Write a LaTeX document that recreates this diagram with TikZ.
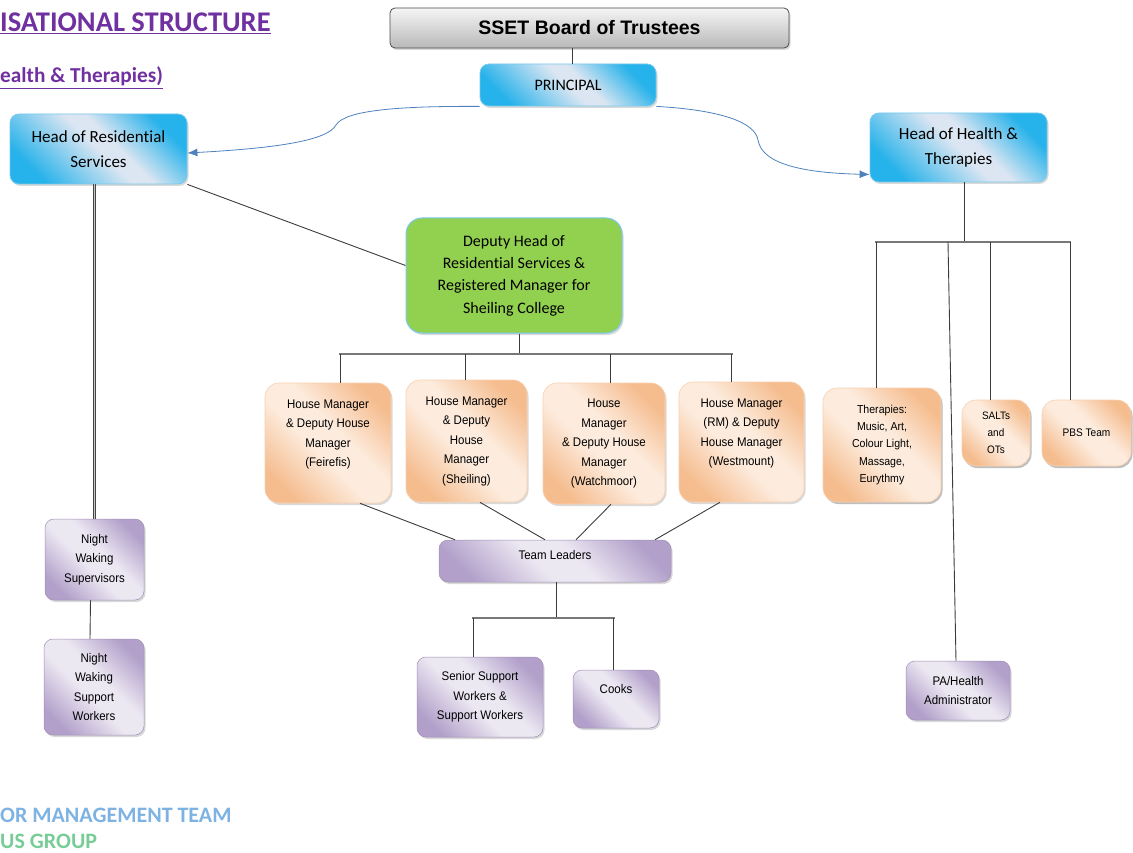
\documentclass[tikz,border=0pt]{standalone}
\usepackage{fontspec}
\setmainfont[Ligatures=NoCommon]{Carlito}
\newfontfamily\arialfont{Liberation Sans}
\newfontfamily\narrowfont[FakeStretch=0.92]{Liberation Sans}
\usetikzlibrary{shadows,arrows.meta}

\definecolor{titlepurple}{RGB}{112,48,160}
\definecolor{smtblue}{RGB}{125,178,226}
\definecolor{focusgreen}{RGB}{120,205,150}
\definecolor{boxblue}{RGB}{38,178,234}
\definecolor{paleblue}{RGB}{220,230,242}
\definecolor{edgeblue}{RGB}{120,200,238}
\definecolor{leafgreen}{RGB}{146,208,80}
\definecolor{peach}{RGB}{245,188,142}
\definecolor{palepeach}{RGB}{253,236,222}
\definecolor{lilac}{RGB}{178,160,202}
\definecolor{palelilac}{RGB}{236,232,242}
\definecolor{arrowblue}{RGB}{79,129,189}
\definecolor{linegray}{RGB}{60,60,60}
\definecolor{busgray}{RGB}{120,120,120}

\pgfdeclarehorizontalshading{blueband}{100bp}{color(0bp)=(boxblue); color(25bp)=(boxblue);
  color(50bp)=(paleblue); color(56bp)=(paleblue); color(75bp)=(boxblue); color(100bp)=(boxblue)}
\pgfdeclarehorizontalshading{peachband}{100bp}{color(0bp)=(peach); color(24bp)=(peach);
  color(45bp)=(palepeach); color(56bp)=(palepeach); color(76bp)=(peach); color(100bp)=(peach)}
\pgfdeclarehorizontalshading{lilacband}{100bp}{color(0bp)=(lilac); color(24bp)=(lilac);
  color(45bp)=(palelilac); color(56bp)=(palelilac); color(76bp)=(lilac); color(100bp)=(lilac)}

\tikzset{
  boxshadow/.style={drop shadow={opacity=0.3,shadow xshift=1.5pt,shadow yshift=-2pt}},
  headbox/.style={rounded corners=9pt, draw=edgeblue, line width=0.8pt,
    shade, shading=blueband, shading angle=45, boxshadow},
  housebox/.style={rounded corners=14pt, draw=peach!70, line width=0.6pt,
    shade, shading=peachband, shading angle=45, boxshadow,
    font=\narrowfont\fontsize{12.5}{19.5}\selectfont},
  staffbox/.style={rounded corners=9pt, draw=lilac!90!black, line width=0.5pt,
    shade, shading=lilacband, shading angle=45, boxshadow,
    font=\narrowfont\fontsize{12.5}{19.5}\selectfont},
  smallbox/.style={housebox, font=\narrowfont\fontsize{11.5}{17.2}\selectfont},
  bus/.style={draw=busgray, line width=1.8pt},
  flow/.style={draw=arrowblue, line width=0.8pt, -{Latex[length=10pt,width=8pt]}}
}

\begin{document}
\begin{tikzpicture}[x=1pt,y=-1pt,
  every edge/.style={draw=linegray, line width=0.9pt}]
\useasboundingbox (0,0) rectangle (1133,853);

% headings
\node[anchor=base west, inner sep=0, text=titlepurple,
  font=\bfseries\fontsize{28.5}{30}\selectfont] (T1) at (0,32) {\underline{ISATIONAL STRUCTURE}};
\node[anchor=base west, inner sep=0, text=titlepurple,
  font=\bfseries\fontsize{21.3}{24}\selectfont] (T2) at (0,83) {\underline{ealth \& Therapies)}};
\node[anchor=base west, inner sep=0, text=smtblue,
  font=\bfseries\fontsize{22}{24}\selectfont] (L1) at (0,822) {OR MANAGEMENT TEAM};
\node[anchor=base west, inner sep=0, text=focusgreen,
  font=\bfseries\fontsize{22}{24}\selectfont] (L2) at (0,848) {US GROUP};

% top of the tree
\node[rounded corners=5pt, draw=gray!60!black, line width=0.8pt, top color=gray!8,
  bottom color=gray!55, boxshadow, minimum width=399pt, minimum height=40pt,
  font=\arialfont\bfseries\fontsize{19.5}{22}\selectfont] (BT) at (589.5,28) {SSET Board of Trustees};
\begin{scope}[every node/.style={headbox, align=center, inner sep=0,
    font=\fontsize{17}{25}\selectfont}]
    \node[minimum width=176pt, minimum height=42pt, font=\fontsize{16}{20}\selectfont] (P) at (568,85) {PRINCIPAL};
    \node[minimum width=177pt, minimum height=70pt] (HR) at (98.5,149) {Head of Residential\\Services};
    \node[minimum width=177pt, minimum height=69pt] (HH) at (958.5,147.5) {Head of Health \&\\Therapies};
\end{scope}
\node[rounded corners=16pt, draw=edgeblue, line width=1pt, fill=leafgreen, boxshadow,
  align=center, inner sep=0, minimum width=216pt, minimum height=115pt,
  font=\fontsize{16}{22.3}\selectfont] (DH) at (514,275.5)
  {Deputy Head of\\Residential Services \&\\Registered Manager for\\Sheiling College};

% houses
\begin{scope}[every node/.style={housebox, align=center, inner sep=0}]
    \node[minimum width=126pt, minimum height=120pt] (H1) at (328,443) {House Manager\\\& Deputy House\\Manager\\(Feirefis)\\~};
    \node[minimum width=121pt, minimum height=122pt] (H2) at (466.5,441) {House Manager\\\& Deputy\\House\\Manager\\(Sheiling)};
    \node[minimum width=122pt, minimum height=121pt] (H3) at (604,443.5) {House\\Manager\\\& Deputy House\\Manager\\(Watchmoor)};
    \node[minimum width=125pt, minimum height=120pt] (H4) at (741.5,442) {House Manager\\(RM) \& Deputy\\House Manager\\(Westmount)\\~};
    \node[smallbox, minimum width=118pt, minimum height=114pt] (TH) at (882,445) {Therapies:\\Music, Art,\\Colour Light,\\Massage,\\Eurythmy};
    \node[smallbox, minimum width=68pt, minimum height=66pt, font=\narrowfont\fontsize{10.8}{17}\selectfont] (SA) at (996,433) {SALTs\\and\\OTs};
    \node[smallbox, minimum width=89pt, minimum height=66pt, font=\narrowfont\fontsize{11}{17}\selectfont] (PB) at (1086.5,433) {PBS Team};
\end{scope}

% staff
\begin{scope}[every node/.style={staffbox, align=center, inner sep=0}]
    \node[minimum width=232pt, minimum height=42pt] (TL) at (555,561) {Team Leaders\\[-8pt]~};
    \node[minimum width=126pt, minimum height=80pt] (SS) at (480,697) {Senior Support\\Workers \&\\Support Workers};
    \node[minimum width=86pt, minimum height=58pt] (CK) at (616,699) {Cooks\\~};
    \node[minimum width=99pt, minimum height=81pt] (NS) at (94.5,559.5) {Night\\Waking\\Supervisors};
    \node[minimum width=100pt, minimum height=96pt] (NW) at (94,687) {Night\\Waking\\Support\\Workers};
    \node[minimum width=104pt, minimum height=59pt] (PA) at (958,690.5) {PA/Health\\Administrator};
\end{scope}

% bus points
\coordinate (d0) at (519,354);
\coordinate (d1) at (340,354);
\coordinate (d2) at (465,354);
\coordinate (d3) at (610,354);
\coordinate (d4) at (731,354);
\coordinate (t0) at (556,618);
\coordinate (t1) at (473,618);
\coordinate (t2) at (613,618);
\coordinate (r0) at (964,242);
\coordinate (r1) at (876,242);
\coordinate (r2) at (948,242);
\coordinate (r3) at (990,242);
\coordinate (r4) at (1070,242);

% connectors
\path ([xshift=-17.5pt]BT.south) edge ([xshift=4pt]P.north);
\draw[flow] (P.south west) .. controls (400,106) and (345,110) .. (336,125)
  .. controls (328,140) and (280,148) .. ([yshift=-4pt]HR.east);
\draw[flow] (P.south east) .. controls (720,110) and (755,122) .. (758,140)
  .. controls (762,166) and (810,173) .. ([yshift=-27pt]HH.west);
\draw[draw=gray!55!black, double=gray!45, double distance=1.4pt, line width=0.6pt]
  (NS.north |- HR.south) -- (NS.north);
\path ([xshift=-4pt]NS.south) edge ([xshift=-4pt]NW.north);
\path (HR.south east) edge ([yshift=10pt]DH.west);

\path (d0 |- DH.south) edge (d0);
\draw[bus] ([xshift=-1pt]d1) -- ([xshift=2pt]d4);
\path (d1) edge (d1 |- H1.north)
      (d2) edge (d2 |- H2.north)
      (d3) edge (d3 |- H3.north)
      (d4) edge (d4 |- H4.north);

\path ([xshift=32pt]H1.south) edge ([xshift=-100pt]TL.north)
      ([xshift=13.5pt]H2.south) edge ([xshift=-10pt]TL.north)
      ([xshift=7pt]H3.south) edge ([xshift=21pt]TL.north)
      ([xshift=-21.5pt]H4.south) edge ([xshift=100pt]TL.north);

\path (t0 |- TL.south) edge (t0);
\draw[bus] ([xshift=-1pt]t1) -- ([xshift=2pt]t2);
\path (t1) edge (t1 |- SS.north)
      (t2) edge (t2 |- CK.north);

\path (r0 |- HH.south) edge (r0);
\draw[bus] ([xshift=-1pt]r1) -- ([xshift=1pt]r4);
\path (r1) edge (r1 |- TH.north)
      (r2) edge ([xshift=-2pt]PA.north)
      (r3) edge (r3 |- SA.north)
      (r4) edge (r4 |- PB.north);
\end{tikzpicture}
\end{document}
